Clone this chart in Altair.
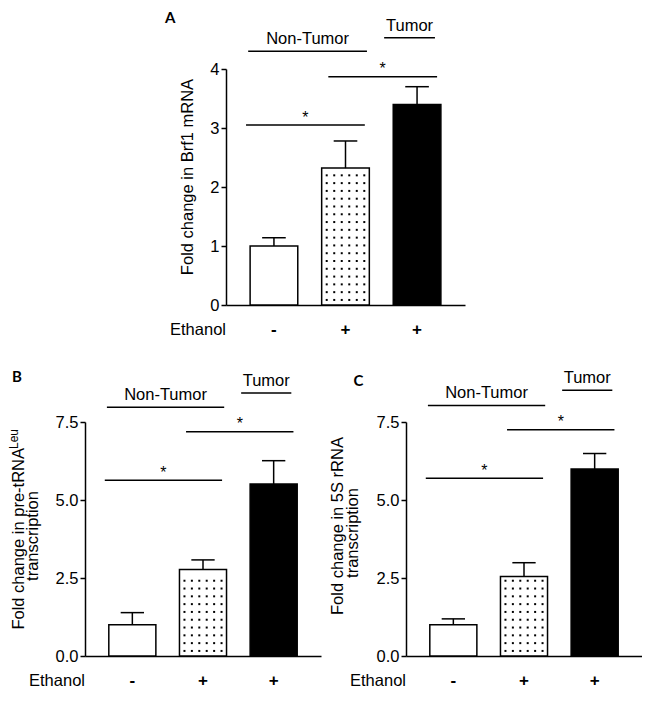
import altair as alt
import pandas as pd

FONT = "Liberation Sans"
FS = 16.5

# ---- data ----
bar_pos = [1, 2, 3]
ethanol = ["-", "+", "+"]
bar_fill = ["white", "white", "black"]
bar_dotted = [False, True, False]

brf1_mean = [1.00, 2.32, 3.40]
brf1_upper = [1.14, 2.78, 3.70]
trna_mean = [1.00, 2.77, 5.51]
trna_upper = [1.39, 3.08, 6.26]
rrna_mean = [1.00, 2.55, 5.99]
rrna_upper = [1.19, 2.99, 6.49]

# significance bars (x from / to in bar-position units) and their heights
sig_x1 = [0.61, 1.76]
sig_x2 = [2.27, 3.28]
brf1_sig_y = [3.05, 3.87]
trna_sig_y = [5.63, 7.19]
rrna_sig_y = [5.70, 7.25]

# group brackets
bracket_labels = ["Non-Tumor", "Tumor"]
bracket_x1 = [0.64, 2.54]
bracket_x2 = [2.30, 3.25]
brf1_bracket_y = [4.30, 4.53]
trna_bracket_y = [7.97, 8.43]
rrna_bracket_y = [8.03, 8.52]

y_ticks_a = [0, 1, 2, 3, 4]
y_ticks_bc = [0, 2.5, 5.0, 7.5]

title_a = ["Fold change in Brf1 mRNA"]
title_b = ["Fold change in pre-tRNA", "transcription"]
title_b_sup = "Leu"
title_c = ["Fold change in 5S rRNA", "transcription"]


def txt(s, x, y, size=FS, **kw):
    return alt.Chart(pd.DataFrame({"t": [s]})).mark_text(
        font=kw.pop("font", FONT), fontSize=size, color="black", **kw).encode(
        x=alt.value(x), y=alt.value(y), text="t:N")


def panel(letter, mean, upper, sig_y, br_y, title_layers, ydom, yvals, fmt,
          W, H, letter_x, letter_y, dot_step):
    xs = alt.Scale(domain=[0.33, 3.67], nice=False, zero=False)
    ys = alt.Scale(domain=ydom, nice=False, zero=True)

    xaxis = alt.Axis(labels=False, ticks=False, title=None, grid=False,
                     domainColor="black", domainWidth=1.5)
    yaxis = alt.Axis(values=yvals, format=fmt, title=None,
                     labelFont=FONT, labelFontSize=FS, labelColor="black",
                     labelPadding=2, labelFlush=False, tickSize=5,
                     tickWidth=1.5, tickColor="black", domainColor="black",
                     domainWidth=1.5, grid=False)

    X = lambda f: alt.X(f, type="quantitative", scale=xs, axis=xaxis)
    Y = lambda f: alt.Y(f, type="quantitative", scale=ys, axis=yaxis)

    df = pd.DataFrame({
        "pos": bar_pos,
        "lo": [p - 0.333 for p in bar_pos],
        "hi": [p + 0.333 for p in bar_pos],
        "cap_lo": [p - 0.165 for p in bar_pos],
        "cap_hi": [p + 0.165 for p in bar_pos],
        "mean": mean,
        "upper": upper,
        "zero": [0] * 3,
        "fillc": bar_fill,
        "sign": ethanol,
    })

    bars = alt.Chart(df).mark_rect(stroke="black", strokeWidth=1.5).encode(
        x=X("lo"), x2="hi:Q", y=Y("mean"), y2="zero:Q",
        fill=alt.Fill("fillc:N", scale=None),
    )

    # dotted texture for the dotted bar
    dots = []
    for p, m, d in zip(bar_pos, mean, bar_dotted):
        if not d:
            continue
        yy = dot_step * 0.65
        while yy < m - dot_step * 0.5:
            for k in range(6):
                dots.append({"dx": p + (k - 2.5) * 0.105, "dy": yy})
            yy += dot_step
    dot_layer = alt.Chart(pd.DataFrame(dots)).mark_square(
        size=4, color="black", opacity=1).encode(x=X("dx"), y=Y("dy"))

    err_v = alt.Chart(df).mark_rule(color="black", strokeWidth=1.5).encode(
        x=X("pos"), y=Y("mean"), y2="upper:Q")
    err_cap = alt.Chart(df).mark_rule(color="black", strokeWidth=1.5).encode(
        x=X("cap_lo"), x2="cap_hi:Q", y=Y("upper"))

    sig = pd.DataFrame({"x1": sig_x1, "x2": sig_x2, "y": sig_y,
                        "mid": [(a + b) / 2 for a, b in zip(sig_x1, sig_x2)],
                        "t": ["*", "*"]})
    sig_lines = alt.Chart(sig).mark_rule(color="black", strokeWidth=1.5).encode(
        x=X("x1"), x2="x2:Q", y=Y("y"))
    stars = alt.Chart(sig).mark_text(font=FONT, fontSize=16, color="black",
                                     baseline="alphabetic", dy=-2.5).encode(
        x=X("mid"), y=Y("y"), text="t:N")

    br = pd.DataFrame({"x1": bracket_x1, "x2": bracket_x2, "y": br_y,
                       "mid": [(a + b) / 2 for a, b in zip(bracket_x1, bracket_x2)],
                       "t": bracket_labels})
    br_lines = alt.Chart(br).mark_rule(color="black", strokeWidth=1.5).encode(
        x=X("x1"), x2="x2:Q", y=Y("y"))
    br_text = alt.Chart(br).mark_text(font=FONT, fontSize=FS, color="black",
                                      baseline="alphabetic", dy=-7).encode(
        x=X("mid"), y=Y("y"), text="t:N")

    signs = alt.Chart(df).mark_text(font=FONT, fontSize=17, fontWeight="bold",
                                    color="black", baseline="middle").encode(
        x=X("pos"), y=alt.value(H + 25), text="sign:N")
    eth = txt("Ethanol", 0, H + 25, align="right", baseline="middle")
    lab = txt(letter, letter_x, letter_y, size=15, font="Lato",
              fontWeight="bold", align="left", baseline="top")

    layers = [bars, dot_layer, err_v, err_cap, sig_lines, stars,
              br_lines, br_text, signs, eth, lab] + title_layers
    return alt.layer(*layers).properties(width=W, height=H)


rot = dict(angle=270, baseline="alphabetic")

ta = [txt(title_a[0], -33, 108, align="center", **rot)]
tb = [txt(title_b[0], -61, 26, align="right", **rot),
      txt(title_b_sup, -67, 27, size=12, align="left", **rot),
      txt(title_b[1], -47, 114, align="center", **rot)]
tc = [txt(title_c[0], -63, 104, align="center", **rot),
      txt(title_c[1], -48.5, 111, align="center", **rot)]

A = panel("A", brf1_mean, brf1_upper, brf1_sig_y, brf1_bracket_y, ta,
          [0, 4], y_ticks_a, "d", 239, 236, -61, -58, 0.132)
B = panel("B", trna_mean, trna_upper, trna_sig_y, trna_bracket_y, tb,
          [0, 7.5], y_ticks_bc, ".1f", 236, 234, -73, -52.5, 0.25)
C = panel("C", rrna_mean, rrna_upper, rrna_sig_y, rrna_bracket_y, tc,
          [0, 7.5], y_ticks_bc, ".1f", 236, 234, -52.6, -47.6, 0.25)

# blank view that shifts panel A to the right of panel B's axis
spacer = alt.Chart(pd.DataFrame({"a": [0]})).mark_point(opacity=0, size=1).encode(
    x=alt.value(0), y=alt.value(0)).properties(width=80, height=1)

top = alt.hconcat(spacer, A, spacing=0)
bottom = alt.hconcat(B, C, spacing=9)

chart = alt.vconcat(top, bottom, spacing=30).properties(
    padding={"top": 3, "left": 0, "right": 0, "bottom": 0}, background="white"
).configure_view(stroke=None)

chart.save("out.html", embed_options={"renderer": "svg", "actions": False})
